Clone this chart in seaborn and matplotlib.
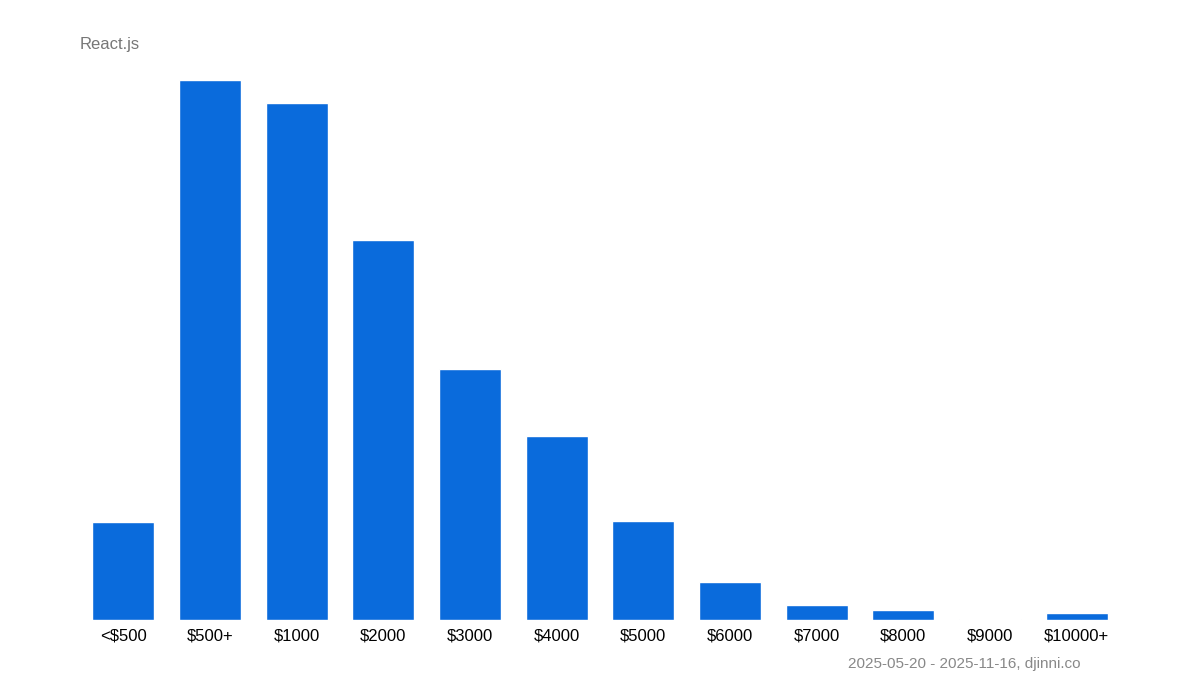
import matplotlib
matplotlib.use("Agg")
import matplotlib.pyplot as plt
import seaborn as sns
import pandas as pd

categories = ["<$500", "$500+", "$1000", "$2000", "$3000", "$4000",
              "$5000", "$6000", "$7000", "$8000", "$9000", "$10000+"]
counts = [98, 540, 517, 380, 251, 184, 99, 38, 15, 10, 1, 7]

df = pd.DataFrame({"salary": categories, "count": counts})

sns.set_style("white")
plt.rcParams["font.family"] = ["Liberation Sans", "DejaVu Sans"]

fig = plt.figure(figsize=(12, 7), dpi=100)
ax = fig.add_axes([80 / 1200, 80 / 700, 1040 / 1200, 540 / 700])

sns.barplot(data=df, x="salary", y="count", color="#0a6bdc",
            saturation=1, width=0.715, ax=ax)

ax.set_ylim(0, max(counts))
ax.set_xlim(-0.5, len(categories) - 0.5)
ax.set_xlabel("")
ax.set_ylabel("")
ax.set_yticks([])
ax.tick_params(axis="x", length=0, labelsize=12, colors="#000000", pad=6)
sns.despine(ax=ax, left=True, bottom=True)

fig.text(80 / 1200, 1 - 44 / 700, "React.js", fontsize=12, color="#777777",
         va="center", ha="left")
fig.text(1080 / 1200, 1 - 664 / 700, "2025-05-20 - 2025-11-16, djinni.co",
         fontsize=11, color="#888888", va="center", ha="right")

fig.savefig("out.png", dpi=100)
plt.close(fig)
